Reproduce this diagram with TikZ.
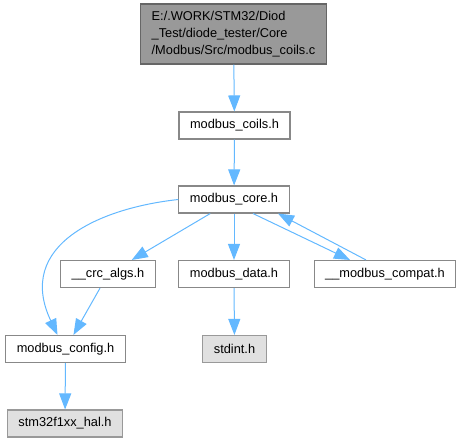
\documentclass[tikz,border=0pt]{standalone}
\usepackage{fontspec}
\setmainfont{Liberation Sans}
\usetikzlibrary{arrows.meta}
\definecolor{edgeblue}{HTML}{63B8FF}
\definecolor{boxline}{HTML}{888888}
\definecolor{rootfill}{HTML}{999999}
\definecolor{rootline}{HTML}{666666}
\definecolor{sysfill}{HTML}{E0E0E0}
\definecolor{sysline}{HTML}{999999}

\begin{document}
\begin{tikzpicture}[
    >={Triangle[length=16pt,width=12pt]},
    file/.style={draw=boxline, fill=white, line width=1.1pt, inner xsep=11pt,
      minimum height=27pt, font=\fontsize{12.8}{17}\selectfont},
    sysfile/.style={file, draw=sysline, fill=sysfill},
    rootfile/.style={file, draw=rootline, fill=rootfill, align=left,
      minimum height=60pt},
    dep/.style={draw=edgeblue, line width=1pt, ->}]
  \useasboundingbox (0,0) rectangle (462pt,-443pt);
  \node[rootfile] (root) at (233.5pt,-34pt)
    {E:/.WORK/STM32/Diod\\\_Test/diode\_tester/Core\\/Modbus/Src/modbus\_coils.c};
  \node[file] (coils) at (234.5pt,-125.5pt) {modbus\_coils.h};
  \node[file] (core) at (234pt,-199.5pt) {modbus\_core.h};
  \node[file] (crc) at (108pt,-274pt) {\_\_crc\_algs.h};
  \node[file] (data) at (234pt,-274pt) {modbus\_data.h};
  \node[file] (compat) at (385pt,-274pt) {\_\_modbus\_compat.h};
  \node[file] (config) at (65.5pt,-349pt) {modbus\_config.h};
  \node[sysfile] (stdint) at (234.5pt,-349pt) {stdint.h};
  \node[sysfile] (hal) at (65pt,-423.5pt) {stm32f1xx\_hal.h};
  \path
    (root) edge[dep] (coils)
    (coils) edge[dep] (core)
    (core) edge[dep] (crc) edge[dep] (data)
    ([xshift=19pt]core.south) edge[dep] ([xshift=-35pt]compat.north)
    ([xshift=-19pt]compat.north) edge[dep] ([xshift=44pt]core.south)
    (crc) edge[dep] (config)
    (data) edge[dep] (stdint)
    (config) edge[dep] (hal);
  \draw[dep] (core.west) .. controls (100pt,-208pt) and (15pt,-245pt)
    .. ([xshift=-8pt]config.north);
\end{tikzpicture}
\end{document}
